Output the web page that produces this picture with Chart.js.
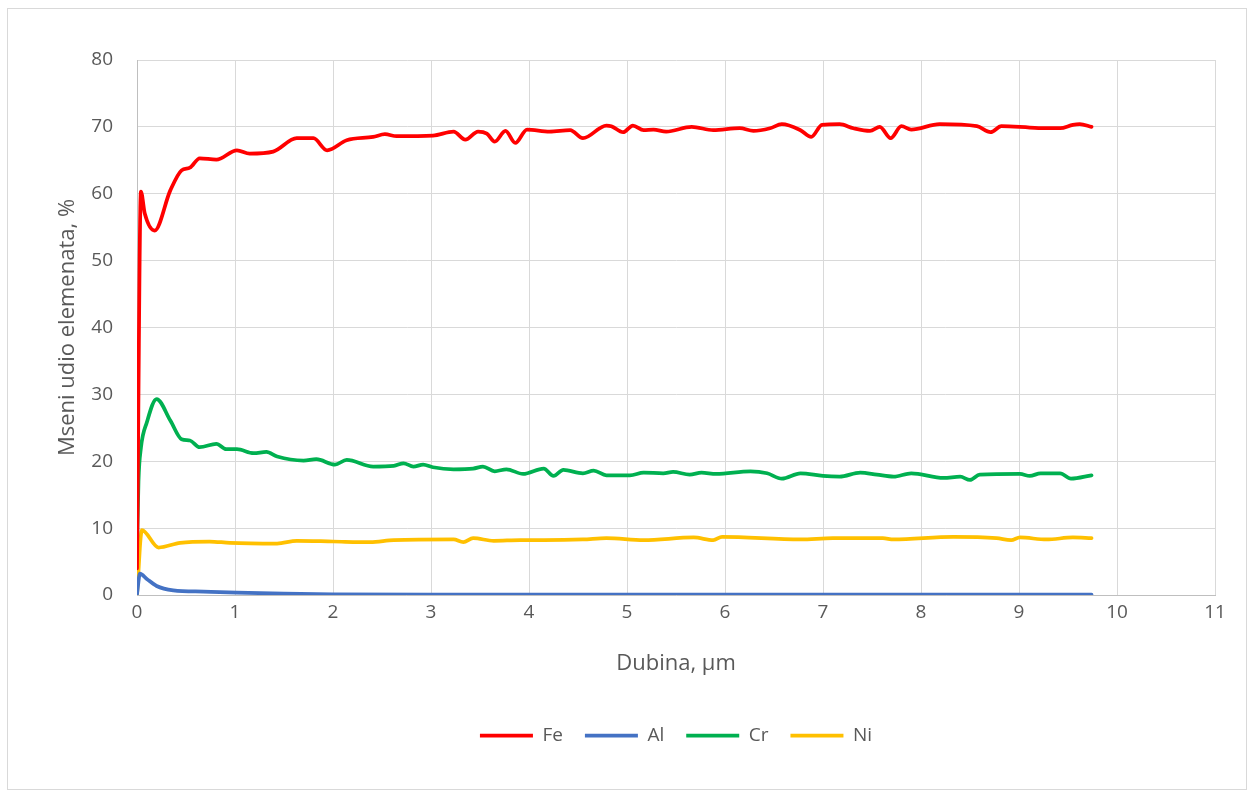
<!DOCTYPE html>
<html><head><meta charset="utf-8">
<script src="https://cdn.jsdelivr.net/npm/chart.js@4/dist/chart.umd.min.js"></script>
<style>html,body{margin:0;padding:0;background:#fff}#wrap{width:1253px;height:798px;position:relative}</style>
</head><body><div id="wrap"><canvas id="c"></canvas></div>
<script>
const feX = [0, 0.04, 0.08, 0.18, 0.34, 0.455, 0.54, 0.64, 0.81, 1.02, 1.15, 1.39, 1.63, 1.80, 1.94, 2.14, 2.41, 2.53, 2.65, 3.02, 3.23, 3.35, 3.48, 3.57, 3.65, 3.76, 3.86, 3.98, 4.21, 4.42, 4.55, 4.79, 4.84, 4.96, 5.06, 5.17, 5.27, 5.40, 5.66, 5.88, 6.15, 6.29, 6.46, 6.58, 6.77, 6.88, 6.99, 7.17, 7.31, 7.48, 7.58, 7.69, 7.80, 7.90, 8.19, 8.57, 8.71, 8.82, 9.11, 9.28, 9.42, 9.55, 9.62, 9.74];
const feY = [4, 60.3, 57, 54.5, 60.5, 63.5, 63.9, 65.3, 65.1, 66.5, 66.0, 66.3, 68.3, 68.3, 66.5, 68.0, 68.5, 68.9, 68.6, 68.7, 69.3, 68.1, 69.3, 69.0, 67.8, 69.4, 67.6, 69.6, 69.3, 69.5, 68.3, 70.2, 70.1, 69.2, 70.2, 69.5, 69.6, 69.3, 70.0, 69.5, 69.8, 69.4, 69.8, 70.4, 69.5, 68.5, 70.3, 70.4, 69.8, 69.4, 70.0, 68.3, 70.1, 69.6, 70.4, 70.1, 69.2, 70.1, 69.9, 69.8, 69.8, 70.3, 70.4, 70.0];

const alX = [0, 0.03, 0.1, 0.2, 0.37, 0.68, 1.02, 1.5, 2.0, 3.0, 4.0, 6.0, 8.0, 9.74];
const alY = [0.1, 3.2, 2.4, 1.35, 0.7, 0.5, 0.35, 0.2, 0.1, 0.05, 0.05, 0.05, 0.05, 0.05];

const crX = [0, 0.015, 0.04, 0.10, 0.20, 0.34, 0.455, 0.54, 0.64, 0.81, 0.91, 1.02, 1.19, 1.32, 1.43, 1.70, 1.83, 2.02, 2.14, 2.41, 2.62, 2.72, 2.82, 2.92, 3.02, 3.23, 3.43, 3.53, 3.65, 3.77, 3.94, 4.15, 4.25, 4.35, 4.55, 4.66, 4.79, 5.03, 5.17, 5.37, 5.47, 5.64, 5.76, 5.91, 6.26, 6.43, 6.58, 6.77, 7.00, 7.17, 7.38, 7.55, 7.72, 7.90, 8.23, 8.40, 8.50, 8.60, 9.01, 9.11, 9.22, 9.42, 9.53, 9.74];
const crY = [7, 17, 22, 25.8, 29.3, 26.1, 23.3, 23.1, 22.1, 22.6, 21.8, 21.8, 21.2, 21.4, 20.7, 20.1, 20.3, 19.5, 20.2, 19.2, 19.3, 19.7, 19.2, 19.5, 19.1, 18.8, 18.9, 19.2, 18.5, 18.8, 18.1, 18.9, 17.8, 18.7, 18.2, 18.6, 17.9, 17.9, 18.3, 18.2, 18.4, 18.0, 18.3, 18.1, 18.5, 18.2, 17.4, 18.2, 17.8, 17.7, 18.3, 18.0, 17.7, 18.2, 17.5, 17.7, 17.2, 18.0, 18.1, 17.8, 18.2, 18.2, 17.4, 17.9];

const niX = [0, 0.05, 0.22, 0.44, 0.74, 0.95, 1.43, 1.63, 2.0, 2.38, 2.62, 3.23, 3.33, 3.43, 3.64, 3.91, 4.15, 4.55, 4.79, 5.17, 5.68, 5.88, 5.97, 6.77, 7.1, 7.61, 7.72, 8.33, 8.77, 8.92, 9.01, 9.28, 9.55, 9.74];
const niY = [0.1, 9.7, 7.1, 7.8, 8.0, 7.8, 7.7, 8.1, 8.0, 7.9, 8.2, 8.3, 7.9, 8.5, 8.1, 8.2, 8.2, 8.3, 8.5, 8.2, 8.6, 8.2, 8.7, 8.3, 8.5, 8.5, 8.3, 8.7, 8.5, 8.2, 8.6, 8.3, 8.6, 8.5];

const seriesNames = ['Fe', 'Al', 'Cr', 'Ni'];
const xTitle = 'Dubina, µm';
const yTitle = 'Mseni udio elemenata, %';

const FONT = "'Open Sans', 'Liberation Sans', sans-serif";
const TXT = '#595959';
const pts = (xs, ys) => xs.map((x, i) => ({x: x, y: ys[i]}));
const mk = (label, xs, ys, color) => ({
  label, data: pts(xs, ys), borderColor: color, backgroundColor: color,
  borderWidth: 3.75, pointRadius: 0, pointHoverRadius: 0,
  cubicInterpolationMode: 'monotone', borderCapStyle: 'round', borderJoinStyle: 'round', fill: false
});

const frame = {
  id: 'frame',
  beforeDraw(chart) {
    const c = chart.ctx; c.save();
    c.fillStyle = '#fff'; c.fillRect(0, 0, chart.width, chart.height);
    c.strokeStyle = '#d9d9d9'; c.lineWidth = 1; c.strokeRect(7.5, 8.5, 1239, 781);
    c.restore();
  }
};

new Chart(document.getElementById('c'), {
  type: 'line',
  data: { datasets: [
    mk(seriesNames[0], feX, feY, '#ff0000'),
    mk(seriesNames[1], alX, alY, '#4472c4'),
    mk(seriesNames[2], crX, crY, '#00b050'),
    mk(seriesNames[3], niX, niY, '#ffc000')
  ]},
  options: {
    responsive: true, maintainAspectRatio: false, animation: false,
    layout: { padding: { left: 7, top: 60, right: 38, bottom: 43 } },
    plugins: {
      tooltip: { enabled: false },
      legend: {
        position: 'bottom', fullSize: false,
        labels: {
          font: { family: FONT, size: 19 }, color: TXT,
          usePointStyle: true, pointStyle: 'line', pointStyleWidth: 53, padding: 22
        }
      }
    },
    scales: {
      x: {
        type: 'linear', min: 0, max: 11,
        ticks: { stepSize: 1, font: { family: FONT, size: 19 }, color: TXT, padding: 6 },
        grid: { color: '#d9d9d9', lineWidth: 1, drawTicks: false },
        border: { color: '#bfbfbf', width: 1 },
        title: { display: true, text: xTitle, font: { family: FONT, size: 22 }, color: TXT, padding: { top: 0, bottom: 27 } },
        afterFit: s => { s.height = 109; }
      },
      y: {
        min: 0, max: 80,
        ticks: { stepSize: 10, font: { family: FONT, size: 19 }, color: TXT, padding: 24 },
        grid: { color: '#d9d9d9', lineWidth: 1, drawTicks: false },
        border: { color: '#bfbfbf', width: 1 },
        title: { display: true, text: yTitle, font: { family: FONT, size: 22 }, color: TXT, padding: { top: 48, bottom: 0 } },
        afterFit: s => { s.width = 130; }
      }
    }
  },
  plugins: [frame]
});
</script>
</body></html>
